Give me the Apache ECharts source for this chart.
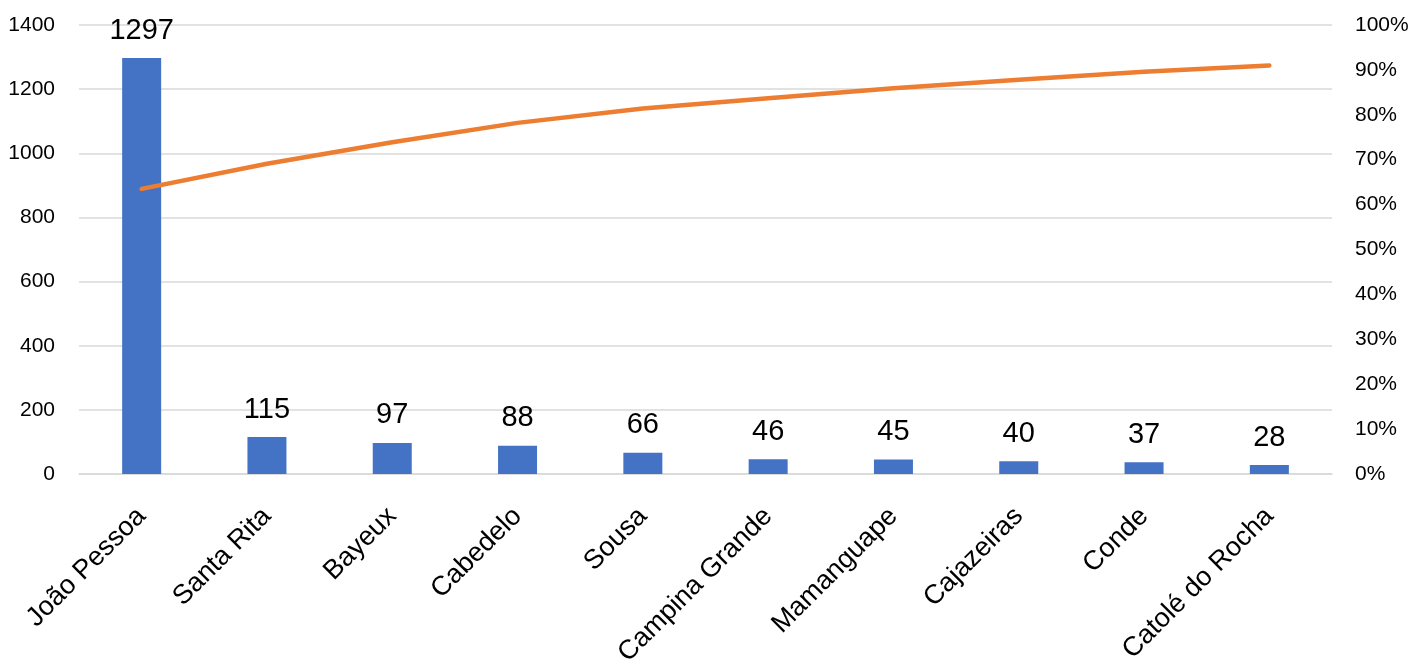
<!DOCTYPE html>
<html>
<head>
<meta charset="utf-8">
<script src="https://cdn.jsdelivr.net/npm/echarts@6/dist/echarts.min.js"></script>
<style>
html,body{margin:0;padding:0;background:#fff;}
#chart{width:1411px;height:665px;}
</style>
</head>
<body>
<div id="chart"></div>
<script>
const categories = ['João Pessoa','Santa Rita','Bayeux','Cabedelo','Sousa','Campina Grande','Mamanguape','Cajazeiras','Conde','Catolé do Rocha'];
const counts = [1297,115,97,88,66,46,45,40,37,28];
const cumulativePct = [63.5,69.1,73.9,78.2,81.4,83.7,85.9,87.8,89.6,91.0];

const font = 'Liberation Sans, Arial, sans-serif';
const chart = echarts.init(document.getElementById('chart'), null, {renderer:'canvas'});
chart.setOption({
  animation:false,
  backgroundColor:'#fff',
  grid:{left:79,right:79,top:25,bottom:191,containLabel:false,outerBoundsMode:'none'},
  xAxis:{
    type:'category',
    data:categories,
    axisTick:{show:false},
    axisLine:{lineStyle:{color:'#d9d9d9',width:1.5}},
    axisLabel:{rotate:45,fontSize:27,color:'#000',fontFamily:font,margin:38,interval:0}
  },
  yAxis:[
    {type:'value',min:0,max:1400,interval:200,
     axisLine:{show:false},axisTick:{show:false},
     splitLine:{lineStyle:{color:'#d9d9d9',width:1.5}},
     axisLabel:{fontSize:21,color:'#000',fontFamily:font,margin:24,formatter:function(v){return String(v);}}},
    {type:'value',min:0,max:100,interval:10,position:'right',
     axisLine:{show:false},axisTick:{show:false},splitLine:{show:false},
     axisLabel:{fontSize:21,color:'#000',fontFamily:font,margin:23,formatter:'{value}%'}}
  ],
  series:[
    {type:'bar',data:counts,barWidth:39,yAxisIndex:0,
     itemStyle:{color:'#4472C4'},
     label:{show:true,position:'top',distance:13,fontSize:29,color:'#000',fontFamily:font}},
    {type:'line',data:cumulativePct,yAxisIndex:1,showSymbol:false,symbol:'none',
     lineStyle:{color:'#ED7D31',width:4.5,cap:'round',join:'round'}}
  ]
});
</script>
</body>
</html>
